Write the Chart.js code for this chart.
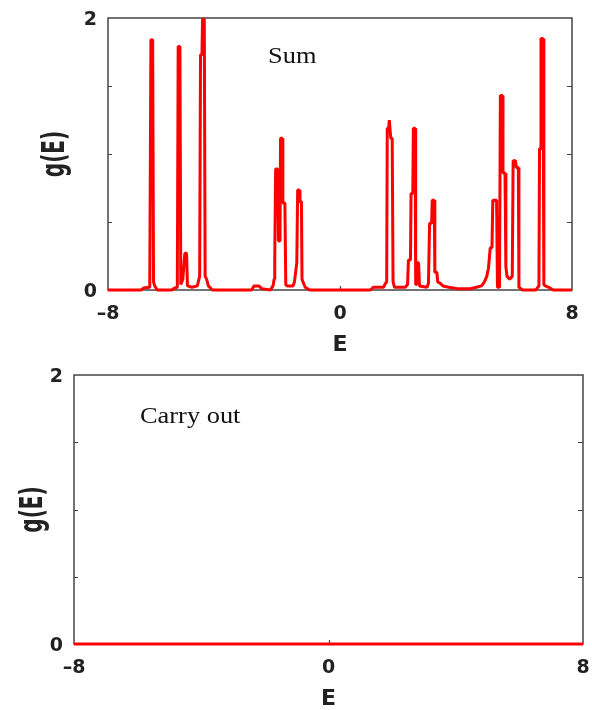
<!DOCTYPE html>
<html>
<head>
<meta charset="utf-8">
<script src="https://cdn.jsdelivr.net/npm/chart.js@4.4.1/dist/chart.umd.min.js"></script>
<style>
    html, body { margin: 0; padding: 0; background: #fff; overflow: hidden; }
    #wrap { position: relative; width: 592px; height: 710px; }
    .panel { position: absolute; left: 0; width: 592px; height: 360px; }
    #top { top: 0; }
    #bottom { top: 354px; }
</style>
</head>
<body>
<div id="wrap">
    <div class="panel" id="top"><canvas id="sumChart"></canvas></div>
    <div class="panel" id="bottom"><canvas id="carryChart"></canvas></div>
</div>
<script>
// density of states, "Sum" panel
const sumE = [
    -8.00, -6.85, -6.78, -6.56, -6.52, -6.46, -6.43, -6.39, -6.30,
    -5.80, -5.70, -5.61, -5.58, -5.52, -5.49, -5.42, -5.35, -5.29, -5.26, -5.10,
    -4.92, -4.84, -4.81, -4.76, -4.74, -4.68, -4.65, -4.60, -4.54, -4.40,
    -3.05, -2.96, -2.80, -2.70, -2.40,
    -2.31, -2.27, -2.25, -2.22, -2.15, -2.12, -2.07, -2.05, -1.99, -1.97, -1.90, -1.87, -1.82,
    -1.62, -1.57, -1.53, -1.49, -1.46, -1.40, -1.38, -1.33, -1.31, -1.26, -1.20, -1.05,
    1.05, 1.15, 1.50, 1.57, 1.61, 1.63, 1.68, 1.70, 1.72, 1.75, 1.80, 1.83, 1.88,
    2.25, 2.33, 2.36, 2.43, 2.45, 2.51, 2.53, 2.59, 2.61, 2.64, 2.66, 2.71, 2.74,
    3.00, 3.05, 3.09, 3.16, 3.18, 3.25, 3.27, 3.34, 3.37, 3.45, 3.55, 3.75, 4.05,
    4.50, 4.70, 4.88, 4.98, 5.06, 5.12, 5.18, 5.24, 5.27, 5.40, 5.43, 5.50,
    5.53, 5.60, 5.62, 5.69, 5.72, 5.76, 5.85, 5.94, 5.97, 6.05, 6.08, 6.15, 6.17, 6.30,
    6.75, 6.82, 6.86, 6.88, 6.92, 6.93, 7.00, 7.03, 7.08, 7.20, 7.35, 8.00
];
const sumG = [
    0, 0, 0.015, 0.02, 1.84, 1.84, 0.06, 0.03, 0,
    0, 0.015, 0.02, 1.79, 1.79, 0.04, 0.08, 0.27, 0.27, 0.03, 0.02,
    0.03, 0.10, 1.73, 1.73, 1.99, 1.99, 0.10, 0.08, 0.03, 0,
    0, 0.03, 0.03, 0.01, 0,
    0.03, 0.08, 0.22, 0.89, 0.89, 0.36, 0.36, 1.115, 1.115, 0.64, 0.64, 0.04, 0.03,
    0.03, 0.06, 0.13, 0.20, 0.735, 0.735, 0.65, 0.65, 0.08, 0.05, 0.02, 0,
    0, 0.02, 0.02, 0.05, 0.06, 1.19, 1.19, 1.25, 1.25, 1.115, 1.115, 0.06, 0.02,
    0.02, 0.04, 0.22, 0.22, 0.71, 0.71, 1.19, 1.19, 0.04, 0.04, 0.20, 0.20, 0.03,
    0.02, 0.05, 0.49, 0.49, 0.66, 0.66, 0.13, 0.13, 0.06, 0.05, 0.03, 0.02, 0.01,
    0.01, 0.02, 0.03, 0.06, 0.10, 0.16, 0.31, 0.31, 0.66, 0.66, 0.02, 0.02,
    1.43, 1.43, 0.86, 0.86, 0.17, 0.10, 0.08, 0.10, 0.95, 0.95, 0.90, 0.90, 0.02, 0,
    0, 0.02, 0.03, 1.04, 1.04, 1.85, 1.85, 0.04, 0.03, 0.02, 0, 0
];

// "Carry out" panel: flat zero
const carryE = [-8, 8];
const carryG = [0, 0];

const xTicks = [-8, 0, 8];
const yTicks = [0, 2];
const yMinor = [0.5, 1, 1.5];
const xMinor = [0];

const tickFont = { family: 'DejaVu Sans', weight: 'bold', size: 19 };

const panelPlugin = {
    id: 'panel',
    beforeDatasetsDraw(chart, args, opts) {
        const { ctx, chartArea: a, scales: { x, y } } = chart;
        ctx.save();
        ctx.strokeStyle = '#444';
        ctx.lineWidth = 1.5;
        ctx.strokeRect(a.left, a.top, a.right - a.left, a.bottom - a.top);
        ctx.lineWidth = 1.2;
        ctx.beginPath();
        yMinor.forEach(v => {
            const py = Math.round(y.getPixelForValue(v)) + 0.5;
            ctx.moveTo(a.left, py); ctx.lineTo(a.left + 4, py);
            ctx.moveTo(a.right - 5, py); ctx.lineTo(a.right, py);
        });
        xMinor.forEach(v => {
            const px = Math.round(x.getPixelForValue(v)) + 0.5;
            ctx.moveTo(px, a.bottom); ctx.lineTo(px, a.bottom - 4);
        });
        ctx.stroke();
        ctx.restore();
    },
    afterDraw(chart, args, opts) {
        const ctx = chart.ctx;
        ctx.save();
        // panel name
        ctx.fillStyle = '#111';
        ctx.font = '24px "Liberation Serif"';
        ctx.textBaseline = 'alphabetic';
        ctx.translate(opts.nameX, opts.nameY);
        ctx.scale(1.1, 1);
        ctx.fillText(opts.name, 0, 0);
        ctx.restore();

        // rotated y title
        ctx.save();
        ctx.fillStyle = '#222';
        ctx.font = 'bold 20px "DejaVu Sans"';
        ctx.textAlign = 'center';
        ctx.textBaseline = 'middle';
        ctx.translate(opts.yTitleX, (chart.chartArea.top + chart.chartArea.bottom) / 2);
        ctx.rotate(-Math.PI / 2);
        ctx.scale(1, 1.6);
        ctx.fillText('g(E)', 0, 0);
        ctx.restore();
    }
};

function makeChart(id, E, G, yWidth, padTop, padRight, panel) {
    return new Chart(document.getElementById(id), {
        type: 'line',
        data: {
            datasets: [{
                data: E.map((e, i) => ({ x: e, y: G[i] })),
                borderColor: '#ff0000',
                borderWidth: 3,
                borderJoinStyle: 'bevel',
                pointRadius: 0,
                tension: 0,
                fill: false,
                clip: 4
            }]
        },
        options: {
            responsive: true,
            maintainAspectRatio: false,
            animation: false,
            devicePixelRatio: 1,
            layout: { padding: { top: padTop, right: padRight, left: 0, bottom: 0 } },
            plugins: {
                legend: { display: false },
                tooltip: { enabled: false },
                panel: panel
            },
            scales: {
                x: {
                    type: 'linear',
                    min: -8,
                    max: 8,
                    afterBuildTicks: s => { s.ticks = xTicks.map(v => ({ value: v })); },
                    afterFit: s => { s.height = 70; s.paddingLeft = 0; s.paddingRight = 0; },
                    grid: { display: false, drawTicks: false },
                    border: { display: false },
                    ticks: {
                        padding: 13,
                        maxRotation: 0,
                        color: '#222',
                        font: tickFont,
                        callback: v => v < 0 ? '\u2013' + Math.abs(v) : String(v)
                    },
                    title: {
                        display: true,
                        text: 'E',
                        color: '#222',
                        font: { family: 'DejaVu Sans', weight: 'bold', size: 22 },
                        padding: { top: 0, bottom: 2 }
                    }
                },
                y: {
                    min: 0,
                    max: 2,
                    afterBuildTicks: s => { s.ticks = yTicks.map(v => ({ value: v })); },
                    afterFit: s => { s.width = yWidth; s.paddingTop = 0; s.paddingBottom = 0; },
                    grid: { display: false, drawTicks: false },
                    border: { display: false },
                    ticks: {
                        padding: 11,
                        labelOffset: 2,
                        color: '#222',
                        font: tickFont
                    }
                }
            }
        },
        plugins: [panelPlugin]
    });
}

makeChart('sumChart', sumE, sumG, 108, 18, 20,
    { name: 'Sum', nameX: 268, nameY: 63, yTitleX: 56 });
makeChart('carryChart', carryE, carryG, 74, 21, 9,
    { name: 'Carry out', nameX: 140, nameY: 69, yTitleX: 34 });
</script>
</body>
</html>
